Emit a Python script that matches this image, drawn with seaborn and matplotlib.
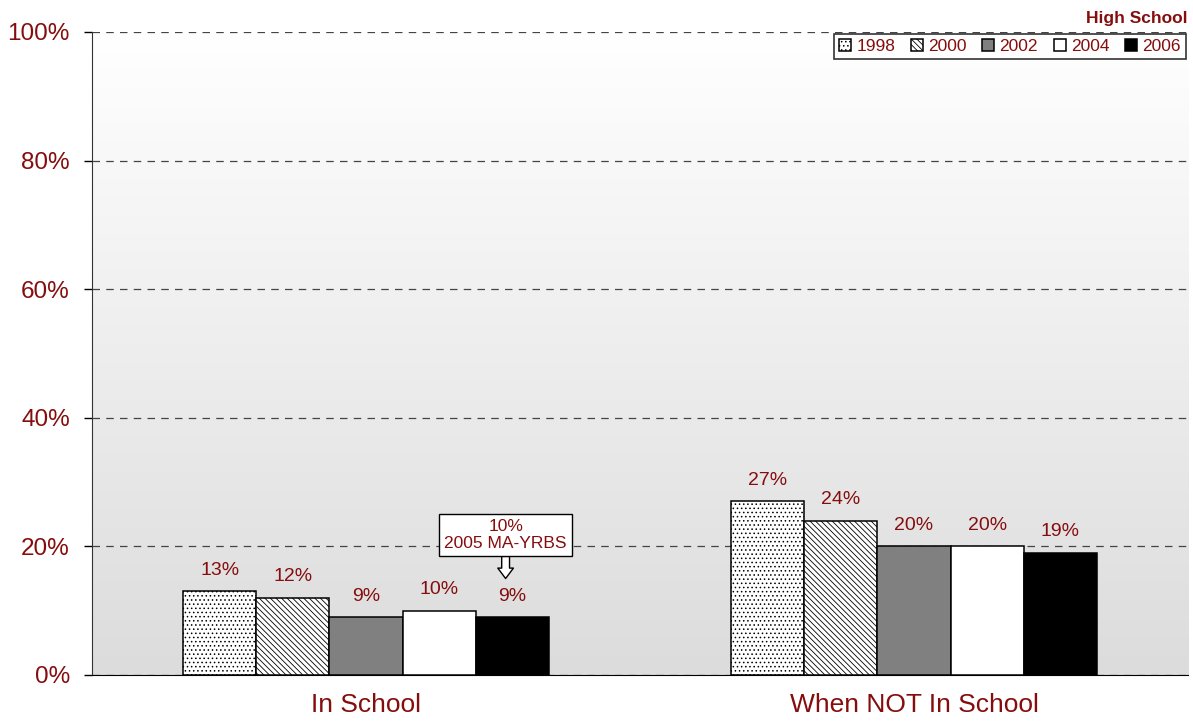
import numpy as np
import pandas as pd
import seaborn as sns
import matplotlib.pyplot as plt
from matplotlib.colors import LinearSegmentedColormap

# chart values
settings = ['In School', 'When NOT In School']
years = ['1998', '2000', '2002', '2004', '2006']
pct_1998 = [13, 27]
pct_2000 = [12, 24]
pct_2002 = [9, 20]
pct_2004 = [10, 20]
pct_2006 = [9, 19]
yrbs_2005_value = 10
yrbs_2005_label = '2005 MA-YRBS'
panel_title = 'High School'

dark_red = '#850D0D'
bar_colors = ['white', 'white', '#808080', 'white', 'black']
bar_hatches = ['....', '\\\\\\\\\\\\', '', '', '']

rows = []
for yr, vals in zip(years, [pct_1998, pct_2000, pct_2002, pct_2004, pct_2006]):
    for s, v in zip(settings, vals):
        rows.append({'setting': s, 'year': yr, 'pct': v})
df = pd.DataFrame(rows)

sns.set_style('white')
plt.rcParams['font.family'] = ['Liberation Sans', 'DejaVu Sans']
plt.rcParams['hatch.linewidth'] = 0.6

fig = plt.figure(figsize=(11.93, 7.25), dpi=100)
ax = fig.add_axes([0.0771, 0.069, 0.9187, 0.8869])

# gradient background, white at top to light grey at bottom
bg = LinearSegmentedColormap.from_list('bg', ['#ffffff', '#dcdcdc'])
grad = np.linspace(0, 1, 256).reshape(-1, 1)
ax.imshow(grad, extent=[-0.5, 1.5, 0, 100], aspect='auto', cmap=bg,
          origin='upper', zorder=0)

sns.barplot(data=df, x='setting', y='pct', hue='year', palette=bar_colors,
            width=0.667, edgecolor='black', linewidth=1.1, saturation=1,
            legend=False, ax=ax, zorder=3)

for cont, hatch in zip(ax.containers, bar_hatches):
    for p in cont.patches:
        p.set_hatch(hatch)
    ax.bar_label(cont, labels=[f'{v:.0f}%' for v in cont.datavalues],
                 padding=9, color=dark_red, fontsize=14)

ax.set_xlim(-0.5, 1.5)
ax.set_ylim(0, 100)
ax.set_yticks(range(0, 101, 20))
ax.set_yticklabels([f'{t}%' for t in range(0, 101, 20)])
ax.tick_params(axis='y', colors='black', labelcolor=dark_red, labelsize=17.5,
               direction='out', length=6, width=1, left=True, pad=10)
ax.tick_params(axis='x', labelcolor=dark_red, labelsize=19, length=0, pad=13)
ax.set_xlabel('')
ax.set_ylabel('')
ax.yaxis.grid(True, linestyle=(0, (6, 5)), color='#444444', linewidth=0.9, zorder=1)
ax.set_axisbelow(True)
for side in ['top', 'right']:
    ax.spines[side].set_visible(False)
ax.spines['left'].set_color('#333333')
ax.spines['bottom'].set_color('black')

# legend
handles = [c.patches[0] for c in ax.containers]
leg = ax.legend(handles, years, ncol=5, loc='upper right', bbox_to_anchor=(1.0, 1.0),
                frameon=True, fancybox=False, edgecolor='black', fontsize=12.5,
                handlelength=0.7, handleheight=0.7, handletextpad=0.3,
                columnspacing=0.9, borderpad=0.3, borderaxespad=0.1)
leg.get_frame().set_linewidth(1.2)
for t in leg.get_texts():
    t.set_color(dark_red)

fig.text(0.995, 0.974, panel_title, ha='right', va='center', fontsize=12.5,
         fontweight='bold', color=dark_red)

# 2005 MA-YRBS callout over the 2006 In School bar
target = ax.containers[4].patches[0]
tx = target.get_x() + target.get_width() / 2 - 0.012
ax.annotate(f'{yrbs_2005_value}%\n{yrbs_2005_label}',
            xy=(tx, target.get_height() + 6), xytext=(tx, target.get_height() + 12.8),
            ha='center', va='center', fontsize=12.5, color=dark_red, linespacing=1.15,
            bbox=dict(boxstyle='square,pad=0.3', fc='white', ec='black', lw=1),
            arrowprops=dict(arrowstyle='simple,head_length=0.6,head_width=0.9,tail_width=0.45',
                            fc='white', ec='black', lw=1, shrinkA=0, shrinkB=0),
            zorder=5)

fig.savefig('out.png', dpi=100)
